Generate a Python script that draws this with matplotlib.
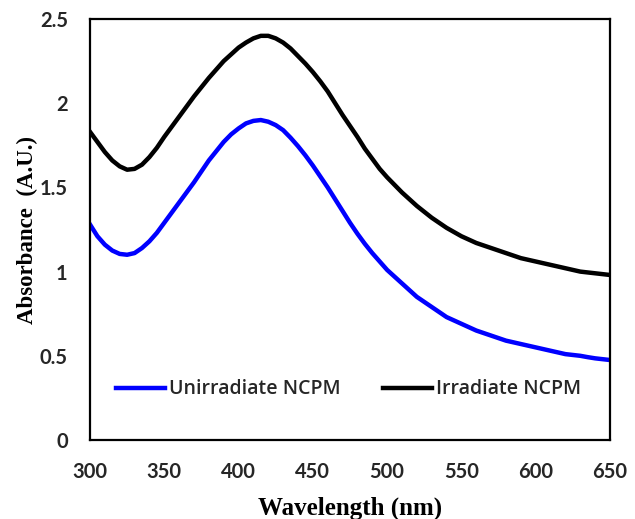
import matplotlib.pyplot as plt

wavelength = list(range(300, 655, 5))

unirradiate = [1.28, 1.21, 1.16, 1.125, 1.105, 1.10, 1.11, 1.14, 1.18, 1.23,
               1.29, 1.35, 1.41, 1.47, 1.53, 1.595, 1.66, 1.715, 1.77, 1.815,
               1.85, 1.88, 1.895, 1.90, 1.89, 1.87, 1.84, 1.795, 1.745, 1.69,
               1.63, 1.565, 1.50, 1.43, 1.36, 1.29, 1.225, 1.165, 1.11, 1.06,
               1.01, 0.97, 0.93, 0.89, 0.85, 0.82, 0.79, 0.76, 0.73, 0.71,
               0.69, 0.67, 0.65, 0.635, 0.62, 0.605, 0.59, 0.58, 0.57, 0.56,
               0.55, 0.54, 0.53, 0.52, 0.51, 0.505, 0.50, 0.492, 0.485, 0.48,
               0.475]

irradiate = [1.83, 1.77, 1.71, 1.66, 1.625, 1.605, 1.61, 1.635, 1.68, 1.735,
             1.80, 1.86, 1.92, 1.98, 2.04, 2.095, 2.15, 2.20, 2.25, 2.29,
             2.33, 2.36, 2.385, 2.40, 2.40, 2.385, 2.36, 2.325, 2.28, 2.235,
             2.185, 2.13, 2.07, 2.00, 1.93, 1.865, 1.80, 1.73, 1.67, 1.61,
             1.56, 1.515, 1.47, 1.43, 1.39, 1.355, 1.32, 1.29, 1.26, 1.235,
             1.21, 1.19, 1.17, 1.155, 1.14, 1.125, 1.11, 1.095, 1.08, 1.07,
             1.06, 1.05, 1.04, 1.03, 1.02, 1.01, 1.00, 0.995, 0.99, 0.985,
             0.98]

x_ticks = [300, 350, 400, 450, 500, 550, 600, 650]
y_ticks = [0, 0.5, 1, 1.5, 2, 2.5]
y_labels = ['0', '0.5', '1', '1.5', '2', '2.5']

fig = plt.figure(figsize=(6.35, 5.19), dpi=100)
ax = fig.add_axes([0.1417, 0.1522, 0.8189, 0.8112])

ax.plot(wavelength, unirradiate, color='#0000ff', lw=3.2, label='Unirradiate NCPM')
ax.plot(wavelength, irradiate, color='black', lw=3.2, label='Irradiate NCPM')

ax.set_xlim(300, 650)
ax.set_ylim(0, 2.5)
ax.set_xticks(x_ticks)
ax.set_xticklabels([str(t) for t in x_ticks])
ax.set_yticks(y_ticks)
ax.set_yticklabels(y_labels)
ax.tick_params(axis='both', length=0, labelsize=14.5)
ax.tick_params(axis='x', pad=16)
ax.tick_params(axis='y', pad=16)
for lab in ax.get_xticklabels() + ax.get_yticklabels():
    lab.set_family('Lato')
    lab.set_fontweight('bold')
    lab.set_color('#262626')

for sp in ax.spines.values():
    sp.set_linewidth(1.6)
    sp.set_color('black')

ax.set_xlabel('Wavelength (nm)', family='Liberation Serif', fontweight='bold',
              fontsize=18, labelpad=10)
ax.set_ylabel('Absorbance  (A.U.)', family='Liberation Serif', fontweight='bold',
              fontsize=16.5, labelpad=1)

leg = ax.legend(loc='center', bbox_to_anchor=(0.497, 0.12), ncol=2, frameon=False,
                prop={'family': 'Open Sans', 'size': 14, 'weight': 'semibold'},
                handlelength=2.5, handletextpad=0.2, columnspacing=2.2)
for t in leg.get_texts():
    t.set_color('#262626')

fig.savefig('out.png', dpi=100)
